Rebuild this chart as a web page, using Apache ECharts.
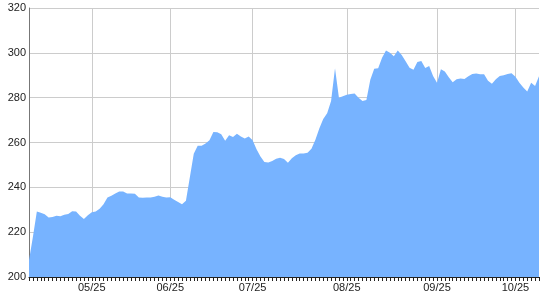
<!DOCTYPE html>
<html>
<head>
<meta charset="utf-8">
<script src="https://cdn.jsdelivr.net/npm/echarts@6/dist/echarts.min.js"></script>
<style>html,body{margin:0;padding:0;background:#fff}#c{width:540px;height:300px}</style>
</head>
<body>
<div id="c"></div>
<script>
// Tick labels and the category index where each appears
const tickLabels = ['05/25', '06/25', '07/25', '08/25', '09/25', '10/25'];
const tickIndex = [16, 36, 57, 81, 104, 124];

// Series values (one per category)
const values = [
  207.5, 218.0, 229.2, 228.7, 228.0, 226.5, 226.8, 227.3, 227.1, 227.8,
  228.1, 229.3, 229.2, 227.3, 225.9, 227.5, 228.9, 229.2, 230.5, 232.4,
  235.5, 236.2, 237.2, 238.1, 238.1, 237.2, 237.3, 237.1, 235.5, 235.4,
  235.5, 235.5, 235.8, 236.4, 235.8, 235.5, 235.6, 234.5, 233.5, 232.5,
  234.0, 244.5, 255.0, 258.5, 258.6, 259.5, 261.0, 264.7, 264.6, 263.7,
  260.8, 263.2, 262.4, 263.9, 262.7, 261.8, 262.7, 261.0, 257.0, 253.8,
  251.3, 251.1, 251.8, 252.8, 253.2, 252.6, 251.0, 253.0, 254.3, 255.1,
  255.1, 255.4, 257.2, 261.2, 266.3, 270.5, 273.0, 278.5, 293.1, 280.0,
  280.6, 281.3, 281.6, 281.9, 280.0, 278.5, 279.0, 288.0, 292.9, 293.1,
  297.8, 301.0, 300.0, 298.5, 301.0, 299.0, 296.2, 293.3, 292.4, 295.9,
  296.4, 293.2, 294.1, 289.7, 286.6, 292.7, 291.7, 289.1, 286.9, 288.2,
  288.6, 288.3, 289.5, 290.6, 290.8, 290.5, 290.5, 287.5, 286.2, 288.2,
  289.7, 290.0, 290.6, 290.9, 289.3, 286.7, 284.5, 282.8, 286.6, 285.2,
  289.6
];

// Categories: one per value
const categories = values.map((_, i) => String(i));

const yMin = 200, yMax = 320, yStep = 20;

const isTick = (idx) => tickIndex.indexOf(idx) >= 0;

const chart = echarts.init(document.getElementById('c'), null, {renderer: 'canvas'});
chart.setOption({
  animation: false,
  grid: {left: 29, right: 1, top: 8, bottom: 23, containLabel: false},
  xAxis: {
    type: 'category',
    data: categories,
    boundaryGap: false,
    axisLine: {show: true, lineStyle: {color: '#222', width: 1}},
    axisTick: {show: true, interval: 0, length: 4, lineStyle: {color: '#222'}},
    axisLabel: {
      interval: (idx) => isTick(idx),
      formatter: (val, idx) => {
        const k = tickIndex.indexOf(Number(val));
        return k >= 0 ? tickLabels[k] : '';
      },
      margin: 5,
      color: '#222',
      fontFamily: 'Liberation Sans, Arial, sans-serif',
      fontSize: 11
    },
    splitLine: {show: true, interval: (idx) => isTick(idx), lineStyle: {color: '#cccccc', width: 1}}
  },
  yAxis: {
    type: 'value',
    min: yMin,
    max: yMax,
    interval: yStep,
    axisLine: {show: true, lineStyle: {color: '#777', width: 1}},
    axisTick: {show: false},
    axisLabel: {
      margin: 3,
      color: '#222',
      fontFamily: 'Liberation Sans, Arial, sans-serif',
      fontSize: 11
    },
    splitLine: {show: true, lineStyle: {color: '#cccccc', width: 1}}
  },
  series: [{
    type: 'line',
    data: values,
    symbol: 'none',
    smooth: false,
    lineStyle: {width: 0, color: '#77b3ff'},
    itemStyle: {color: '#77b3ff'},
    areaStyle: {color: '#77b3ff', opacity: 1, origin: 'start'}
  }]
});
</script>
</body>
</html>
